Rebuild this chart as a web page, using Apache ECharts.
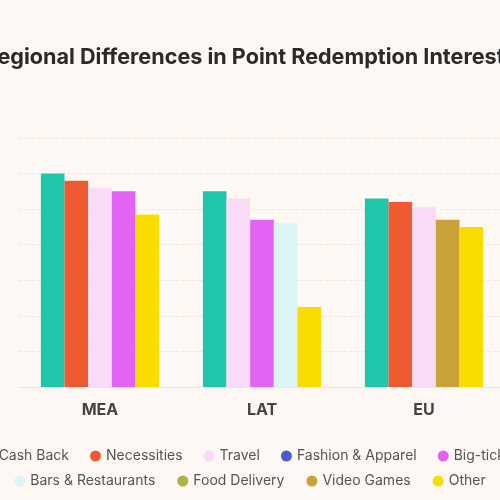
<!DOCTYPE html>
<html>
<head>
<meta charset="utf-8">
<title>Regional Differences in Point Redemption Interests</title>
<script src="https://cdn.jsdelivr.net/npm/echarts@6/dist/echarts.min.js"></script>
<style>
  html, body { margin: 0; padding: 0; width: 500px; height: 500px; overflow: hidden; background: #fdf8f3; }
  #main { position: absolute; left: -30px; top: 0; width: 560px; height: 500px; }
</style>
</head>
<body>
<div id="main"></div>
<script>
// 数据
var regions = ['MEA', 'LAT', 'EU'];
var seriesNames = ['Cash Back', 'Necessities', 'Travel', 'Fashion & Apparel', 'Big-ticket',
                   'Bars & Restaurants', 'Food Delivery', 'Video Games', 'Other'];
var cashBack    = [60, 55, 53];
var necessities = [58, null, 52];
var travel      = [56, 53, 50.5];
var fashion     = [null, null, null];
var bigTicket   = [55, 47, null];
var barsRest    = [null, 46, null];
var foodDeliv   = [null, null, null];
var videoGames  = [null, null, 47];
var other       = [48.5, 22.5, 45];
var yTicks = [0, 10, 20, 30, 40, 50, 60, 70];

var colors = ['#1fc6aa', '#ef5a32', '#f9dbf6', '#4b5bd1', '#e263f2',
              '#dcf6f6', '#aeb24a', '#c9a33a', '#fadd00'];
var values = [cashBack, necessities, travel, fashion, bigTicket, barsRest, foodDeliv, videoGames, other];

// 每个地区只画有值的类别, 按顺序放进柱位
var slots = [];
for (var c = 0; c < regions.length; c++) {
	var k = 0;
	for (var s = 0; s < values.length; s++) {
		if (values[s][c] == null) continue;
		if (!slots[k]) slots[k] = [null, null, null];
		slots[k][c] = { value: values[s][c], name: seriesNames[s], itemStyle: { color: colors[s] } };
		k++;
	}
}

var series = [];
for (var i = 0; i < slots.length; i++) {
	series.push({
		name: 'slot' + i,
		type: 'bar',
		barGap: '0%',
		barCategoryGap: '27%',
		data: slots[i]
	});
}
// 图例用的空系列
for (var j = 0; j < seriesNames.length; j++) {
	series.push({
		name: seriesNames[j],
		type: 'line',
		data: [],
		itemStyle: { color: colors[j] }
	});
}

var legendText = { color: '#555', fontSize: 14, fontFamily: 'Inter, sans-serif' };

var myChart = echarts.init(document.getElementById('main'));
var option = {
	backgroundColor: '#fdf8f3',
	animation: false,
	title: {
		text: 'Regional Differences in Point Redemption Interests',
		left: 'center',
		top: 41,
		textStyle: { color: '#2a2a2a', fontSize: 21.6, fontWeight: 'bold', fontFamily: 'Inter, sans-serif' }
	},
	legend: [
		{
			data: seriesNames.slice(0, 5),
			left: 'center',
			top: 444,
			icon: 'circle',
			itemWidth: 11,
			itemHeight: 11,
			itemGap: 21,
			textStyle: legendText
		},
		{
			data: seriesNames.slice(5),
			left: 'center',
			top: 469,
			icon: 'circle',
			itemWidth: 11,
			itemHeight: 11,
			itemGap: 22,
			textStyle: legendText
		}
	],
	grid: {
		left: 49,
		right: 25,
		top: 138,
		bottom: 113
	},
	xAxis: {
		type: 'category',
		data: regions,
		axisTick: { show: false },
		axisLine: { lineStyle: { color: '#eee6df' } },
		axisLabel: { color: '#444', fontSize: 16, fontWeight: 'bold', margin: 15, fontFamily: 'Inter, sans-serif' }
	},
	yAxis: {
		type: 'value',
		min: yTicks[0],
		max: yTicks[yTicks.length - 1],
		interval: yTicks[1] - yTicks[0],
		axisLabel: { show: false },
		axisLine: { show: false },
		splitLine: { lineStyle: { color: '#efe7e0', type: 'dashed' } }
	},
	series: series
};
myChart.setOption(option);
</script>
</body>
</html>
